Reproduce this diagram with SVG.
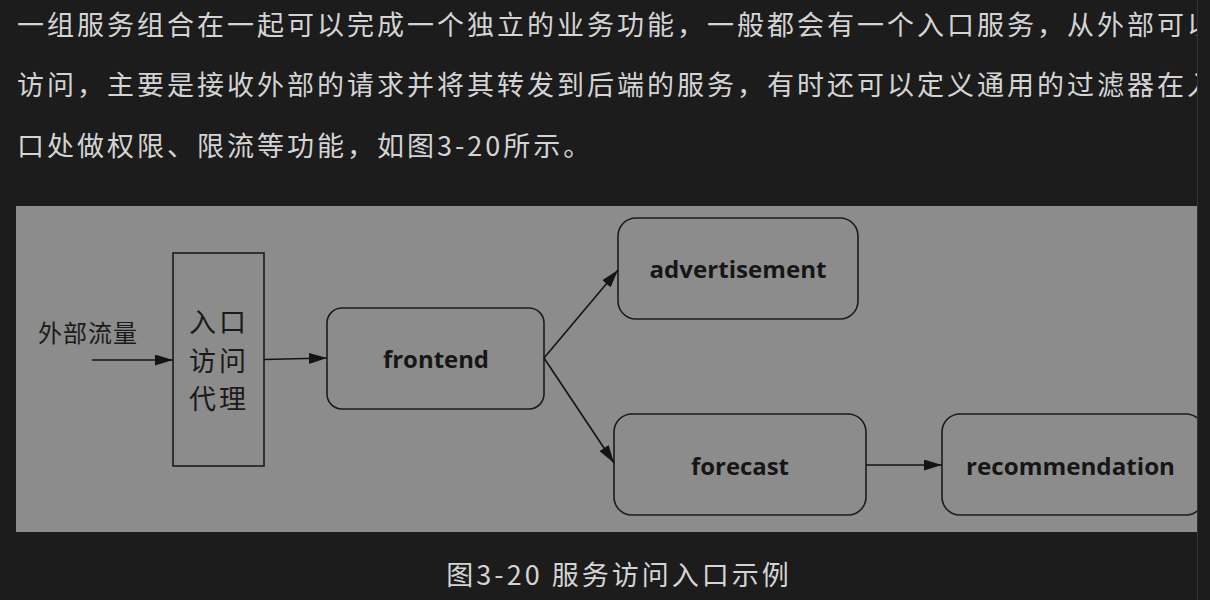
<svg xmlns="http://www.w3.org/2000/svg" width="1210" height="600" viewBox="0 0 1210 600">
  <defs>
    <style>
      .body { font-family: "Noto Sans CJK SC", "Noto Sans", sans-serif; font-size: 27px; letter-spacing: 3px; fill: #d4d4d4; }
      .box { fill: none; stroke: #1c1c1c; stroke-width: 1.6; }
      .cn { font-family: "Noto Sans CJK SC", sans-serif; fill: #1a1a1a; }
      .lbl { font-family: "Open Sans", "Noto Sans", sans-serif; font-weight: bold; font-size: 23px; fill: #161616; text-anchor: middle; }
      .conn { stroke: #141414; stroke-width: 1.6; fill: none; marker-end: url(#arr); }
    </style>
    <marker id="arr" markerUnits="userSpaceOnUse" markerWidth="18" markerHeight="11" refX="18" refY="5.5" orient="auto">
      <path d="M0,0 L18,5.5 L0,11 z" fill="#141414"/>
    </marker>
    <clipPath id="content"><rect x="0" y="0" width="1197" height="600"/></clipPath>
  </defs>
  <rect width="1210" height="600" fill="#1c1c1c"/>
  <g clip-path="url(#content)">
    <text class="body" x="17" y="35">一组服务组合在一起可以完成一个独立的业务功能，一般都会有一个入口服务，从外部可以</text>
    <text class="body" x="17" y="95">访问，主要是接收外部的请求并将其转发到后端的服务，有时还可以定义通用的过滤器在入</text>
    <text class="body" x="17" y="156">口处做权限、限流等功能，如图3-20所示。</text>
    <rect x="16" y="206" width="1181" height="326" fill="#8c8c8c"/>

    <g id="external">
      <text class="cn" x="38" y="342" font-size="24" letter-spacing="1">外部流量</text>
    </g>
    <g id="proxy">
      <rect class="box" x="173" y="253" width="91" height="213"/>
      <text class="cn" x="189" y="332" font-size="27" letter-spacing="3">入口</text>
      <text class="cn" x="189" y="371" font-size="27" letter-spacing="3">访问</text>
      <text class="cn" x="189" y="409" font-size="27" letter-spacing="3">代理</text>
    </g>
    <g id="frontend">
      <rect class="box" x="327" y="308" width="217" height="101" rx="15"/>
      <text class="lbl" x="436" y="368" textLength="106" lengthAdjust="spacingAndGlyphs">frontend</text>
    </g>
    <g id="advertisement">
      <rect class="box" x="618" y="218" width="240" height="101" rx="18"/>
      <text class="lbl" x="738" y="278" textLength="177" lengthAdjust="spacingAndGlyphs">advertisement</text>
    </g>
    <g id="forecast">
      <rect class="box" x="614" y="414" width="252" height="101" rx="18"/>
      <text class="lbl" x="740" y="475" textLength="98" lengthAdjust="spacingAndGlyphs">forecast</text>
    </g>
    <g id="recommendation">
      <rect class="box" x="942" y="414" width="262" height="101" rx="18"/>
      <text class="lbl" x="1070.5" y="475" textLength="209" lengthAdjust="spacingAndGlyphs">recommendation</text>
    </g>

    <g id="connectors">
      <line class="conn" x1="92" y1="360" x2="173" y2="360"/>
      <line class="conn" x1="264" y1="359.5" x2="327" y2="358"/>
      <line class="conn" x1="544" y1="358" x2="618" y2="270"/>
      <line class="conn" x1="544" y1="358" x2="614" y2="463"/>
      <line class="conn" x1="866" y1="465" x2="942" y2="465"/>
    </g>

    <text class="body" x="619" y="585" text-anchor="middle">图3-20 服务访问入口示例</text>
  </g>
  <line x1="1197.5" y1="0" x2="1197.5" y2="600" stroke="#343434" stroke-width="1"/>
</svg>
